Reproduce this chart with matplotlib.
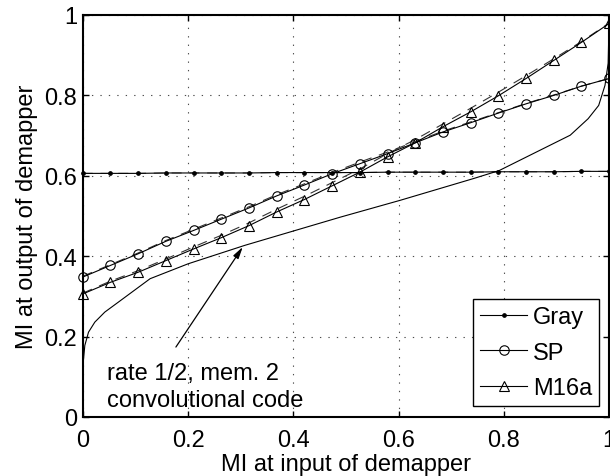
import matplotlib
matplotlib.use('Agg')
import matplotlib.pyplot as plt
import numpy as np

plt.rcParams['font.family'] = ['Liberation Sans', 'DejaVu Sans']

# Input mutual information grid (20 samples)
mi_in = np.linspace(0.0, 1.0, 20)

# Demapper transfer characteristics
gray = [0.606, 0.606, 0.606, 0.607, 0.607, 0.607, 0.607, 0.608, 0.608, 0.608,
        0.608, 0.609, 0.609, 0.609, 0.609, 0.610, 0.610, 0.610, 0.611, 0.611]
sp = [0.348, 0.377, 0.406, 0.437, 0.464, 0.492, 0.520, 0.550, 0.577, 0.605,
      0.630, 0.655, 0.682, 0.709, 0.732, 0.756, 0.779, 0.800, 0.823, 0.842]
m16a = [0.306, 0.335, 0.360, 0.389, 0.418, 0.446, 0.476, 0.510, 0.541, 0.575,
        0.609, 0.647, 0.682, 0.722, 0.759, 0.799, 0.842, 0.887, 0.932, 0.979]

# Companion (dashed) curves
gray_b = [0.606, 0.606, 0.606, 0.607, 0.607, 0.607, 0.607, 0.608, 0.608, 0.608,
          0.608, 0.609, 0.609, 0.609, 0.609, 0.610, 0.610, 0.610, 0.611, 0.611]
sp_b = [0.350, 0.379, 0.408, 0.439, 0.467, 0.495, 0.523, 0.553, 0.580, 0.608,
        0.634, 0.659, 0.685, 0.711, 0.734, 0.757, 0.780, 0.801, 0.823, 0.842]
m16a_b = [0.308, 0.338, 0.364, 0.393, 0.423, 0.452, 0.483, 0.517, 0.549, 0.583,
          0.617, 0.655, 0.690, 0.729, 0.768, 0.808, 0.849, 0.891, 0.934, 0.980]

# Decoder curve (axes swapped): rate 1/2, memory 2 convolutional code
code_x = [0.0, 0.001, 0.004, 0.011, 0.023, 0.042, 0.068, 0.128, 0.200, 0.308,
          0.489, 0.603, 0.742, 0.791, 0.926, 0.960, 0.980, 0.992, 0.998, 1.0]
code_y = [0.115, 0.136, 0.178, 0.211, 0.236, 0.261, 0.286, 0.344, 0.381, 0.427,
          0.497, 0.539, 0.593, 0.613, 0.701, 0.742, 0.775, 0.825, 0.880, 1.0]

ticks = [0, 0.2, 0.4, 0.6, 0.8, 1.0]
tick_labels = ['0', '0.2', '0.4', '0.6', '0.8', '1']

FS = 17

fig = plt.figure(figsize=(6.10, 4.77), dpi=100)
ax = fig.add_axes([0.1356, 0.1237, 0.8631, 0.8428])

lw = 0.8
dash = (0, (9, 7))
ax.plot(mi_in, gray_b, color='0.35', lw=lw, ls=dash)
ax.plot(mi_in, sp_b, color='0.2', lw=lw, ls=dash)
ax.plot(mi_in, m16a_b, color='0.2', lw=lw, ls=dash)

h_gray, = ax.plot(mi_in, gray, color='k', lw=lw, marker='o', ms=2.4,
                  mfc='k', mec='k', clip_on=False, label='Gray')
h_sp, = ax.plot(mi_in, sp, color='k', lw=lw, marker='o', ms=6.8,
                mfc='none', mec='k', mew=0.8, clip_on=False, label='SP')
h_m16, = ax.plot(mi_in, m16a, color='k', lw=lw, marker='^', ms=7.2,
                 mfc='none', mec='k', mew=0.8, clip_on=False, label='M16a')

ax.plot(code_x, code_y, color='k', lw=lw)

ax.annotate('', xy=(0.304, 0.423), xytext=(0.177, 0.174),
            arrowprops=dict(arrowstyle='-|>,head_length=0.7,head_width=0.18',
                            color='k', lw=0.9, shrinkA=0, shrinkB=0))
ax.text(0.046, 0.0946, 'rate 1/2, mem. 2', fontsize=FS, va='baseline', ha='left')
ax.text(0.046, 0.028, 'convolutional code', fontsize=FS, va='baseline', ha='left')

ax.set_xlim(0, 1)
ax.set_ylim(0, 1)
ax.set_xticks(ticks)
ax.set_xticklabels(tick_labels)
ax.set_yticks(ticks)
ax.set_yticklabels(tick_labels)
ax.tick_params(axis='both', direction='in', length=4, width=1.0, labelsize=FS,
               top=True, right=True)
ax.tick_params(axis='x', pad=8.4)
ax.tick_params(axis='y', pad=4.2)
for sp_ in ax.spines.values():
    sp_.set_linewidth(1.5)

ax.grid(True, color='0.3', lw=0.8, ls=(0, (1.2, 6.4)))
ax.set_axisbelow(True)

ax.set_xlabel('MI at input of demapper', fontsize=FS)
ax.set_ylabel('MI at output of demapper', fontsize=FS)
ax.xaxis.set_label_coords(0.5, -0.089)
ax.yaxis.set_label_coords(-0.085, 0.5)

leg = ax.legend(handles=[h_gray, h_sp, h_m16], loc='lower right',
                bbox_to_anchor=(0.981, 0.0266), fontsize=FS, frameon=True,
                fancybox=False, shadow=False, handlelength=1.98,
                handletextpad=0.25, labelspacing=0.57, borderpad=0.3,
                borderaxespad=0.0)
leg.get_frame().set_edgecolor('k')
leg.get_frame().set_linewidth(1.0)
leg.get_frame().set_alpha(1.0)

fig.savefig('out.png', dpi=100)
